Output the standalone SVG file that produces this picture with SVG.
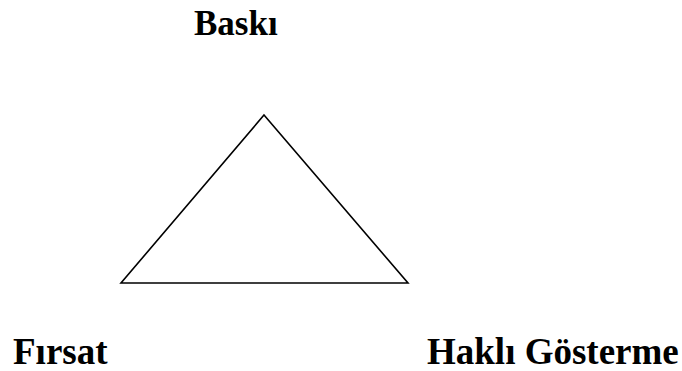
<svg xmlns="http://www.w3.org/2000/svg" width="682" height="371" viewBox="0 0 682 371">
<style>
.lbl{font-family:"Liberation Serif","Times New Roman",serif;font-weight:bold;font-size:37px;fill:#000}
.edge{fill:none;stroke:#000;stroke-width:1.6;stroke-linejoin:miter}
</style>
<rect width="682" height="371" fill="#fff"/>
<g id="connectors">
<polygon class="edge" points="264,115 408,283 121,283"/>
</g>
<g id="baski"><text class="lbl" x="194" y="35" style="font-size:35px">Baskı</text></g>
<g id="firsat"><text class="lbl" x="13" y="364">Fırsat</text></g>
<g id="hakli"><text class="lbl" x="427" y="364">Haklı Gösterme</text></g>
</svg>
